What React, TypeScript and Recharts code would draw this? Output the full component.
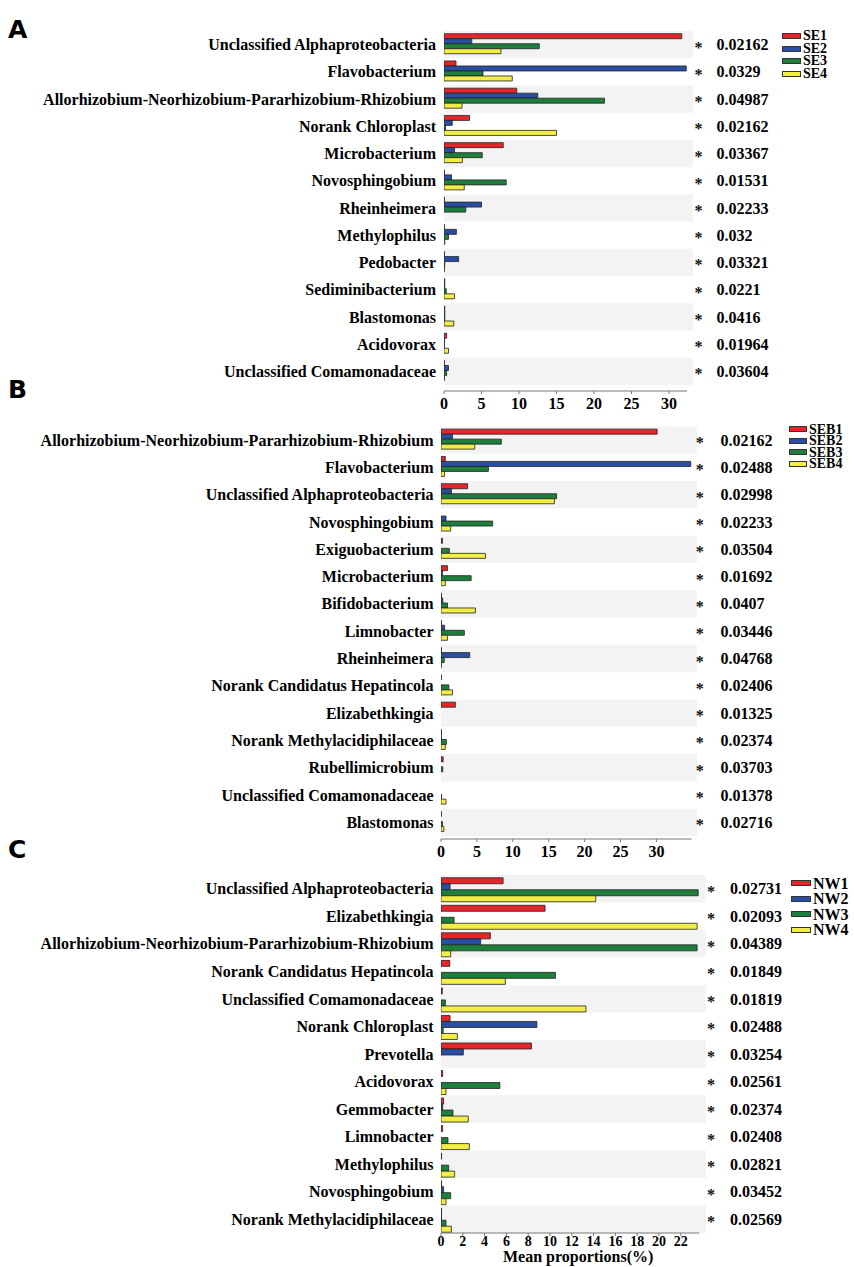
import React from "react";
import {
  Bar,
  BarChart,
  Legend,
  ReferenceArea,
  XAxis,
  YAxis,
} from "recharts";

const SERIF = '"Liberation Serif", "Times New Roman", serif';
const COLORS = ["#E8242B", "#2A4EA3", "#1E7E3C", "#F2EE45"];
const BAND = "#F3F3F3";

// ---- Panel A ----
const A_CATS = [
  "Unclassified Alphaproteobacteria",
  "Flavobacterium",
  "Allorhizobium-Neorhizobium-Pararhizobium-Rhizobium",
  "Norank Chloroplast",
  "Microbacterium",
  "Novosphingobium",
  "Rheinheimera",
  "Methylophilus",
  "Pedobacter",
  "Sediminibacterium",
  "Blastomonas",
  "Acidovorax",
  "Unclassified Comamonadaceae",
];
const A_SERIES = ["SE1", "SE2", "SE3", "SE4"];
const A_SE1 = [31.7, 1.6, 9.7, 3.4, 7.9, 0.05, 0.05, 0.05, 0.05, 0.1, 0.1, 0.35, 0.05];
const A_SE2 = [3.7, 32.3, 12.5, 1.1, 1.4, 1.0, 5.0, 1.65, 1.95, 0.1, 0.1, 0.05, 0.6];
const A_SE3 = [12.7, 5.2, 21.4, 0.2, 5.1, 8.3, 2.9, 0.6, 0.1, 0.3, 0.1, 0.05, 0.35];
const A_SE4 = [7.6, 9.1, 2.4, 15.0, 2.45, 2.7, 0, 0.1, 0.05, 1.4, 1.3, 0.6, 0.05];
const A_P = ["0.02162", "0.0329", "0.04987", "0.02162", "0.03367", "0.01531", "0.02233", "0.032", "0.03321", "0.0221", "0.0416", "0.01964", "0.03604"];
const A_TICKS = [0, 5, 10, 15, 20, 25, 30];

// ---- Panel B ----
const B_CATS = [
  "Allorhizobium-Neorhizobium-Pararhizobium-Rhizobium",
  "Flavobacterium",
  "Unclassified Alphaproteobacteria",
  "Novosphingobium",
  "Exiguobacterium",
  "Microbacterium",
  "Bifidobacterium",
  "Limnobacter",
  "Rheinheimera",
  "Norank Candidatus Hepatincola",
  "Elizabethkingia",
  "Norank Methylacidiphilaceae",
  "Rubellimicrobium",
  "Unclassified Comamonadaceae",
  "Blastomonas",
];
const B_SERIES = ["SEB1", "SEB2", "SEB3", "SEB4"];
const B_SEB1 = [30.1, 0.6, 3.7, 0, 0.2, 0.9, 0.05, 0.05, 0.05, 0.05, 2.0, 0.05, 0.3, 0, 0.05];
const B_SEB2 = [1.6, 34.8, 1.45, 0.7, 0, 0.2, 0.25, 0.5, 4.0, 0, 0, 0.05, 0, 0, 0];
const B_SEB3 = [8.4, 6.6, 16.1, 7.2, 1.16, 4.2, 0.9, 3.25, 0.45, 1.1, 0, 0.75, 0.25, 0.05, 0.2];
const B_SEB4 = [4.7, 0.5, 15.8, 1.35, 6.2, 0.6, 4.8, 0.9, 0.05, 1.6, 0, 0.6, 0, 0.7, 0.4];
const B_P = ["0.02162", "0.02488", "0.02998", "0.02233", "0.03504", "0.01692", "0.0407", "0.03446", "0.04768", "0.02406", "0.01325", "0.02374", "0.03703", "0.01378", "0.02716"];
const B_TICKS = [0, 5, 10, 15, 20, 25, 30];

// ---- Panel C ----
const C_CATS = [
  "Unclassified Alphaproteobacteria",
  "Elizabethkingia",
  "Allorhizobium-Neorhizobium-Pararhizobium-Rhizobium",
  "Norank Candidatus Hepatincola",
  "Unclassified Comamonadaceae",
  "Norank Chloroplast",
  "Prevotella",
  "Acidovorax",
  "Gemmobacter",
  "Limnobacter",
  "Methylophilus",
  "Novosphingobium",
  "Norank Methylacidiphilaceae",
];
const C_SERIES = ["NW1", "NW2", "NW3", "NW4"];
const C_NW1 = [5.7, 9.55, 4.53, 0.81, 0.12, 0.83, 8.3, 0.15, 0.24, 0.15, 0.05, 0.05, 0.05];
const C_NW2 = [0.83, 0, 3.64, 0, 0, 8.8, 2.05, 0, 0.15, 0, 0, 0.24, 0.05];
const C_NW3 = [23.6, 1.2, 23.5, 10.5, 0.4, 0.2, 0, 5.4, 1.1, 0.64, 0.7, 0.89, 0.46];
const C_NW4 = [14.2, 23.5, 0.89, 5.9, 13.3, 1.5, 0, 0.46, 2.5, 2.6, 1.25, 0.46, 0.95];
const C_P = ["0.02731", "0.02093", "0.04389", "0.01849", "0.01819", "0.02488", "0.03254", "0.02561", "0.02374", "0.02408", "0.02821", "0.03452", "0.02569"];
const C_TICKS = [0, 2, 4, 6, 8, 10, 12, 14, 16, 18, 20, 22];

type PanelProps = {
  top: number;
  height: number;
  cats: string[];
  names: string[];
  values: number[][];
  pvals: string[];
  ticks: number[];
  xMax: number;
  bandEnd: number;
  plotLeft: number;
  plotRight: number;
  marginTop: number;
  padBottom: number;
  axisHeight: number;
  labelRight: number;
  starX: number;
  valX: number;
  legend: { left: number; top: number; swatchW: number; lineH: number; font: number };
  tickGap: number;
  tickFont: number;
  xLabel?: string;
};

function Panel(p: PanelProps) {
  const data = p.cats.map((name, i) => {
    const row: Record<string, string | number> = { name, pv: p.pvals[i] };
    p.values.forEach((v, k) => (row["s" + k] = v[i]));
    return row;
  });
  const W = 854;
  return (
    <div style={{ position: "absolute", left: 0, top: p.top }}>
      <BarChart
        width={W}
        height={p.height}
        data={data}
        layout="vertical"
        barGap={0}
        barCategoryGap="10%"
        margin={{ top: p.marginTop, right: 0, bottom: 0, left: 0 }}
      >
        {p.cats.map((c, i) =>
          i % 2 === 0 ? (
            <ReferenceArea
              key={c}
              yAxisId="left"
              y1={c}
              y2={c}
              x1={0}
              x2={p.bandEnd}
              ifOverflow="visible"
              fill={BAND}
              fillOpacity={1}
              stroke="none"
            />
          ) : null
        )}
        <XAxis
          type="number"
          domain={[0, p.xMax]}
          allowDataOverflow
          ticks={p.ticks}
          interval={0}
          height={p.axisHeight}
          stroke="#777"
          tickSize={3}
          tick={(t: any) => (
            <text
              x={t.x}
              y={t.y - 3 + p.tickGap}
              dy="0.72em"
              textAnchor="middle"
              fontSize={p.tickFont}
              fontWeight="bold"
              fontFamily={SERIF}
              fill="#000"
              style={{ fill: "#000", fontFamily: SERIF }}
            >
              {t.payload.value}
            </text>
          )}
          label={
            p.xLabel
              ? {
                  value: p.xLabel,
                  position: "insideBottom",
                  offset: 4,
                  dx: 8,
                  fontSize: 16,
                  fontWeight: "bold",
                  fill: "#000",
                  fontFamily: SERIF,
                }
              : undefined
          }
        />
        <YAxis
          yAxisId="left"
          type="category"
          dataKey="name"
          width={p.plotLeft}
          interval={0}
          axisLine={false}
          tickLine={false}
          padding={{ top: 0, bottom: p.padBottom }}
          tick={(t: any) => (
            <text
              x={p.labelRight}
              y={t.y}
              dy="0.35em"
              textAnchor="end"
              fontSize={16}
              fontWeight="bold"
              fontFamily={SERIF}
              fill="#000"
            >
              {t.payload.value}
            </text>
          )}
        />
        <YAxis
          yAxisId="right"
          orientation="right"
          type="category"
          dataKey="name"
          width={W - p.plotRight}
          interval={0}
          axisLine={false}
          tickLine={false}
          padding={{ top: 0, bottom: p.padBottom }}
          tick={(t: any) => (
            <g>
              <text
                x={p.starX}
                y={t.y}
                dy="0.5em"
                textAnchor="middle"
                fontSize={16}
                fontWeight="bold"
                fontFamily={SERIF}
                fill="#111"
                style={{ fill: "#111" }}
              >
                *
              </text>
              <text
                x={p.valX}
                y={t.y}
                dy="0.35em"
                fontSize={16}
                fontWeight="bold"
                fontFamily={SERIF}
                fill="#000"
              >
                {p.pvals[t.index]}
              </text>
            </g>
          )}
        />
        {p.names.map((n, k) => (
          <Bar
            key={n}
            yAxisId="left"
            dataKey={"s" + k}
            name={n}
            fill={COLORS[k]}
            stroke="#222"
            strokeWidth={0.8}
            isAnimationActive={false}
          />
        ))}
        <Legend
          layout="horizontal"
          verticalAlign="middle"
          align="center"
          wrapperStyle={{ left: p.legend.left, top: p.legend.top, width: 66, height: 66 }}
          content={() => (
            <div>
              {p.names.map((n, k) => (
                <div
                  key={n}
                  style={{
                    display: "flex",
                    alignItems: "center",
                    height: p.legend.lineH,
                    fontFamily: SERIF,
                    fontWeight: "bold",
                    fontSize: p.legend.font,
                    lineHeight: p.legend.lineH + "px",
                    color: "#000",
                  }}
                >
                  <span
                    style={{
                      display: "inline-block",
                      width: p.legend.swatchW,
                      height: 4,
                      background: COLORS[k],
                      border: "1px solid #333",
                      marginRight: 2,
                    }}
                  />
                  {n}
                </div>
              ))}
            </div>
          )}
        />
      </BarChart>
    </div>
  );
}

const letterStyle = (top: number): React.CSSProperties => ({
  position: "absolute",
  left: 8,
  top,
  fontFamily: '"DejaVu Sans", Arial, sans-serif',
  fontWeight: "bold",
  fontSize: 25,
  lineHeight: "25px",
  color: "#000",
});

export default function App() {
  return (
    <div style={{ position: "absolute", left: 0, top: 0, width: 854, height: 1267, background: "#fff" }}>
      <Panel
        top={0}
        height={421}
        cats={A_CATS}
        names={A_SERIES}
        values={[A_SE1, A_SE2, A_SE3, A_SE4]}
        pvals={A_P}
        ticks={A_TICKS}
        xMax={32.4}
        bandEnd={33.2}
        plotLeft={444}
        plotRight={687}
        marginTop={31}
        padBottom={6}
        axisHeight={30}
        labelRight={436}
        starX={698.5}
        valX={716.5}
        legend={{ left: 782, top: 30, swatchW: 17, lineH: 12.5, font: 14 }}
        tickGap={4}
        tickFont={16}
      />
      <Panel
        top={400}
        height={470}
        cats={B_CATS}
        names={B_SERIES}
        values={[B_SEB1, B_SEB2, B_SEB3, B_SEB4]}
        pvals={B_P}
        ticks={B_TICKS}
        xMax={34.9}
        bandEnd={35.65}
        plotLeft={441}
        plotRight={691.6}
        marginTop={26.4}
        padBottom={3}
        axisHeight={31}
        labelRight={433.5}
        starX={699.7}
        valX={720.5}
        legend={{ left: 789, top: 23.5, swatchW: 16, lineH: 11.5, font: 14 }}
        tickGap={4}
        tickFont={16}
      />
      <Panel
        top={850}
        height={416}
        cats={C_CATS}
        names={C_SERIES}
        values={[C_NW1, C_NW2, C_NW3, C_NW4]}
        pvals={C_P}
        ticks={C_TICKS}
        xMax={23.7}
        bandEnd={24.3}
        plotLeft={441}
        plotRight={699.3}
        marginTop={25}
        padBottom={0}
        axisHeight={33}
        labelRight={433.5}
        starX={711}
        valX={730}
        legend={{ left: 791, top: 25.5, swatchW: 18, lineH: 15.5, font: 16 }}
        tickGap={1}
        tickFont={14}
        xLabel="Mean proportions(%)"
      />
      <div style={letterStyle(17)}>A</div>
      <div style={letterStyle(377)}>B</div>
      <div style={letterStyle(837)}>C</div>
    </div>
  );
}
